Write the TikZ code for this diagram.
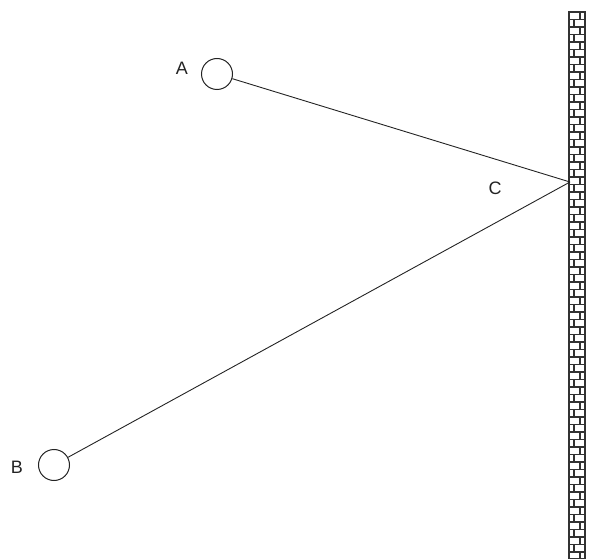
\documentclass[tikz,border=0pt]{standalone}
\usepackage{fontspec}
\setmainfont{Liberation Sans}
\usetikzlibrary{positioning}
\definecolor{wallgray}{RGB}{50,50,50}
\definecolor{ropegray}{RGB}{35,35,35}

\begin{document}
\begin{tikzpicture}[x=1pt, y=-1pt,
    ball/.style={circle, draw=ropegray, line width=1pt, minimum size=31pt, inner sep=0pt},
    rope/.style={draw=ropegray, line width=0.9pt},
    lbl/.style={font=\fontsize{18}{21}\selectfont, text=ropegray, inner sep=0pt},
    brick/.style={draw=wallgray, line width=1.4pt}
]
\useasboundingbox (0,0) rectangle (590,559);

% Wall
\draw[brick] (569,12) rectangle (585,559);
\foreach \i in {1,...,72} {
    \draw[brick] (569,12+7.5*\i) -- (585,12+7.5*\i);
}
\foreach \i in {0,...,72} {
    \pgfmathsetmacro{\dx}{mod(\i,2)==0 ? 580 : 574}
    \pgfmathsetmacro{\ybot}{min(12+7.5*(\i+1),559)}
    \draw[brick] (\dx,12+7.5*\i) -- (\dx,\ybot);
}

% Nodes
\node[ball] (A) at (217,74) {};
\node[ball] (B) at (54,465) {};
\coordinate (C) at (570,182);
\node[lbl] (labA) at (182,68) {A};
\node[lbl] (labB) at (17,467) {B};
\node[lbl] (labC) at (495,188) {C};

% Ropes
\draw[rope] (A) -- (C);
\draw[rope] (B) -- (C);
\end{tikzpicture}
\end{document}
